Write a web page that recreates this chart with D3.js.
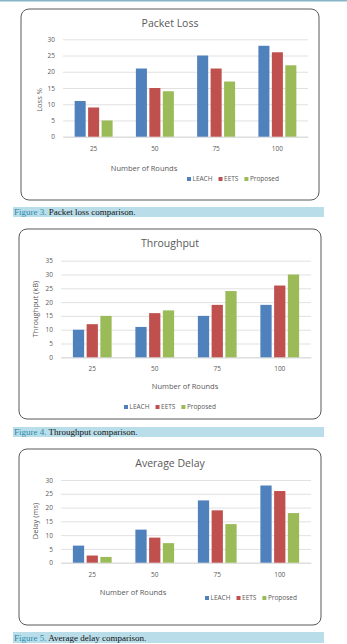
<!DOCTYPE html>
<html><head><meta charset="utf-8">
<script src="https://cdn.jsdelivr.net/npm/d3@7"></script>
<style>
html,body{margin:0;padding:0;background:#fff;}
svg{display:block;}
</style></head>
<body>
<script>
const categories = ["25","50","75","100"];
const seriesNames = ["LEACH","EETS","Proposed"];
const seriesColors = ["#4f81bd","#c0504d","#9bbb59"];

const lossLEACH = [11,21,25,28];
const lossEETS = [9,15,21,26];
const lossProposed = [5,14,17,22];

const thrLEACH = [10,11,15,19];
const thrEETS = [12,16,19,26];
const thrProposed = [15,17,24,30];

const delayLEACH = [6.2,12,22.6,28];
const delayEETS = [2.6,9.1,19,26];
const delayProposed = [2.1,7.1,14,18];

const titles = ["Packet Loss","Throughput","Average Delay"];
const yTitles = ["Loss %","Throughput (kB)","Delay (ms)"];
const xTitle = "Number of Rounds";
const yMax = [30,35,30];
const figNums = ["Figure 3.","Figure 4.","Figure 5."];
const captions = [" Packet loss comparison."," Throughput comparison."," Average delay comparison."];

const W=347,H=644;
const SANS="'Open Sans', Lato, sans-serif";
const SERIF="'Liberation Serif', 'Times New Roman', serif";
const svg=d3.select("body").append("svg").attr("width",W).attr("height",H)
  .style("font-family",SANS);

// top rule
svg.append("rect").attr("x",0).attr("y",0).attr("width",W).attr("height",1.5).attr("fill","#86b6c8");

const layouts = [
  {box:[21,9,319,200], title:23, plot:[63,308,39.3,136.7], xl:149, xt:[144,168], leg:[187,179], yt:[39,100], cap:[207,217]},
  {box:[19,229,321,419], title:243, plot:[61,311,260.7,357.3], xl:369, xt:[185,386], leg:[124,407], yt:[35,309], cap:[427,437]},
  {box:[19,449,321,625], title:463, plot:[61,311,480,562.7], xl:575, xt:[133,592], leg:[205,598], yt:[35,521], cap:[632,643]}
];
const datasets = [
  [lossLEACH,lossEETS,lossProposed],
  [thrLEACH,thrEETS,thrProposed],
  [delayLEACH,delayEETS,delayProposed]
];

layouts.forEach((L,i)=>{
  const g=svg.append("g");
  const [bx0,by0,bx1,by1]=L.box;
  g.append("rect").attr("x",bx0).attr("y",by0).attr("width",bx1-bx0).attr("height",by1-by0)
    .attr("rx",8).attr("fill","#fff").attr("stroke","#595959").attr("stroke-width",1);
  g.append("text").attr("x",(bx0+bx1)/2).attr("y",L.title).attr("dy","0.35em")
    .attr("text-anchor","middle").attr("font-size",10.5).attr("fill","#595959").text(titles[i]);

  const [px0,px1,py0,py1]=L.plot;
  const y=d3.scaleLinear().domain([0,yMax[i]]).range([py1,py0]);
  const x=d3.scaleBand().domain(categories).range([px0,px1]).paddingInner(0.38).paddingOuter(0.19);
  const xs=d3.scaleBand().domain(seriesNames).range([0,x.bandwidth()]).paddingInner(0.18);

  const yAxis=d3.axisLeft(y).ticks(yMax[i]/5).tickSize(-(px1-px0)).tickPadding(8);
  const ya=g.append("g").attr("transform",`translate(${px0},0)`).call(yAxis);
  ya.select(".domain").remove();
  ya.selectAll(".tick line").attr("stroke","#d9d9d9").attr("stroke-width",0.8);
  ya.selectAll(".tick text").attr("fill","#595959").attr("font-size",6.5).attr("font-family",SANS);

  const xa=g.append("g").attr("transform",`translate(0,${py1})`).call(d3.axisBottom(x).tickSize(0).tickPadding(0));
  xa.select(".domain").attr("stroke","#d9d9d9");
  xa.selectAll(".tick text").attr("y",L.xl-py1).attr("dy","0.35em").attr("fill","#595959")
    .attr("font-size",6.5).attr("font-family",SANS);

  datasets[i].forEach((vals,s)=>{
    g.append("g").selectAll("rect").data(vals).join("rect")
      .attr("x",(d,k)=>x(categories[k])+xs(seriesNames[s]))
      .attr("y",d=>y(d)).attr("width",xs.bandwidth()).attr("height",d=>y(0)-y(d))
      .attr("fill",seriesColors[s]);
  });

  g.append("text").attr("x",L.xt[0]).attr("y",L.xt[1]).attr("dy","0.35em").attr("text-anchor","middle")
    .attr("font-size",7.5).attr("fill","#595959").text(xTitle);
  g.append("text").attr("transform",`translate(${L.yt[0]},${L.yt[1]}) rotate(-90)`).attr("dy","0.35em")
    .attr("text-anchor","middle").attr("font-size",7.5).attr("fill","#595959").text(yTitles[i]);

  // legend
  let lx=L.leg[0];
  const lg=g.append("g");
  seriesNames.forEach((n,s)=>{
    lg.append("rect").attr("x",lx).attr("y",L.leg[1]-2).attr("width",4).attr("height",4).attr("fill",seriesColors[s]);
    const t=lg.append("text").attr("x",lx+5.5).attr("y",L.leg[1]).attr("dy","0.35em")
      .attr("font-size",6.5).attr("fill","#595959").text(n);
    lx+=5.5+t.node().getComputedTextLength()+6;
  });

  // caption band
  const [cy0,cy1]=L.cap;
  svg.append("rect").attr("x",13).attr("y",cy0).attr("width",311).attr("height",cy1-cy0).attr("fill","#b9dde9");
  const ct=svg.append("text").attr("x",14).attr("y",(cy0+cy1)/2).attr("dy","0.35em")
    .style("font-family",SERIF).attr("font-size",9).attr("fill","#111");
  ct.append("tspan").attr("fill","#2b8cad").text(figNums[i]);
  ct.append("tspan").text(captions[i]);
});
</script>
</body></html>
